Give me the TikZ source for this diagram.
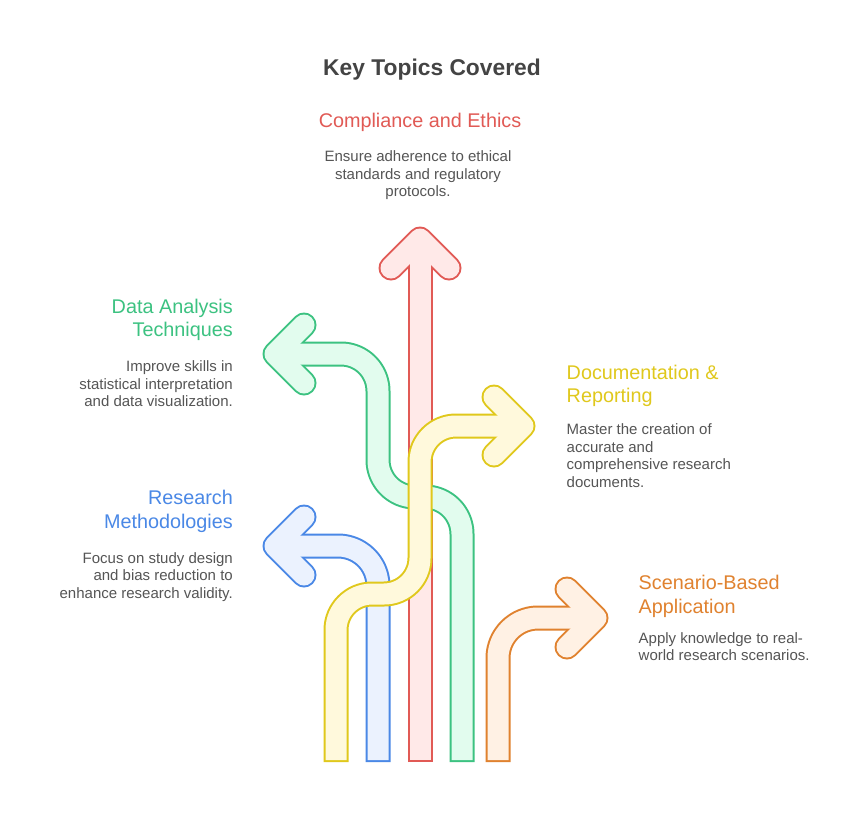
\documentclass[tikz,border=0pt]{standalone}
\usepackage{fontspec}
\setmainfont{Liberation Sans}
\definecolor{titlegray}{HTML}{444444}
\definecolor{notegray}{HTML}{555555}
\definecolor{ethicsline}{HTML}{E15A55}
\definecolor{ethicsfill}{HTML}{FFE9E8}
\definecolor{dataline}{HTML}{3CC281}
\definecolor{datafill}{HTML}{E2FCEE}
\definecolor{methodline}{HTML}{4A88E6}
\definecolor{methodfill}{HTML}{EBF2FE}
\definecolor{scenarioline}{HTML}{E0822F}
\definecolor{scenariofill}{HTML}{FFF1E4}
\definecolor{docline}{HTML}{E0C81C}
\definecolor{docfill}{HTML}{FFF9DC}
\begin{document}
\begin{tikzpicture}[x=1pt, y=-1pt,
    rim/.style={draw=#1, line width=25pt, line join=round},
    core/.style={draw=#1, line width=21pt, line join=round},
    head/.style={font=\fontsize{19.8}{23.5}\selectfont, inner sep=0pt},
    note/.style={font=\fontsize{15}{17.5}\selectfont, text=notegray, inner sep=0pt}]
    \useasboundingbox[fill=white] (0,0) rectangle (864,836);

    \node[font=\bfseries\fontsize{22.8}{27}\selectfont, text=titlegray, anchor=base] (title) at (432,75) {Key Topics Covered};

    % bent arrows, drawn back to front: outline pass, then fill pass
    \foreach \lc/\fc/\body/\tip in {
        ethicsline/ethicsfill/{(420,762) -- (420,239)}/{(391,268) -- (420,239) -- (449,268)},
        dataline/datafill/{[rounded corners=37] (462,762) -- (462,497) -- (378,497) -- (378,354) -- (275,354)}/{(304,325) -- (275,354) -- (304,383)},
        methodline/methodfill/{[rounded corners=40] (378,762) -- (378,546) -- (275,546)}/{(304,517) -- (275,546) -- (304,575)},
        scenarioline/scenariofill/{[rounded corners=40] (498,762) -- (498,618) -- (596,618)}/{(567,589) -- (596,618) -- (567,647)},
        docline/docfill/{[rounded corners=36] (336,762) -- (336,594) -- (420,594) -- (420,426) -- (523,426)}/{(494,397) -- (523,426) -- (494,455)}}{
        \draw[rim=\lc] \body;
        \draw[rim=\lc, line cap=round] \tip;
        \draw[core=\fc, shorten <=2pt] \body;
        \draw[core=\fc, line cap=round] \tip;
    }

    % labels (base = baseline of the last line)
    \node[head, text=ethicsline, anchor=base] (ethics) at (420,127) {Compliance and Ethics};
    \node[note, align=center, anchor=base] (ethics-note) at (418,196.7) {Ensure adherence to ethical\\standards and regulatory\\protocols.};

    \node[head, text=dataline, align=right, anchor=base east] (data) at (233,336.7) {Data Analysis\\Techniques};
    \node[note, align=right, anchor=base east] (data-note) at (233,406.7) {Improve skills in\\statistical interpretation\\and data visualization.};

    \node[head, text=methodline, align=right, anchor=base east] (method) at (233,528.3) {Research\\Methodologies};
    \node[note, align=right, anchor=base east] (method-note) at (233,598) {Focus on study design\\and bias reduction to\\enhance research validity.};

    \node[head, text=docline, align=left, anchor=base west] (doc) at (566.5,402.5) {Documentation \&\\Reporting};
    \node[note, align=left, anchor=base west] (doc-note) at (566.5,487) {Master the creation of\\accurate and\\comprehensive research\\documents.};

    \node[head, text=scenarioline, align=left, anchor=base west] (scenario) at (638.5,613.3) {Scenario-Based\\Application};
    \node[note, align=left, anchor=base west] (scenario-note) at (638.5,660.7) {Apply knowledge to real-\\world research scenarios.};
\end{tikzpicture}
\end{document}
